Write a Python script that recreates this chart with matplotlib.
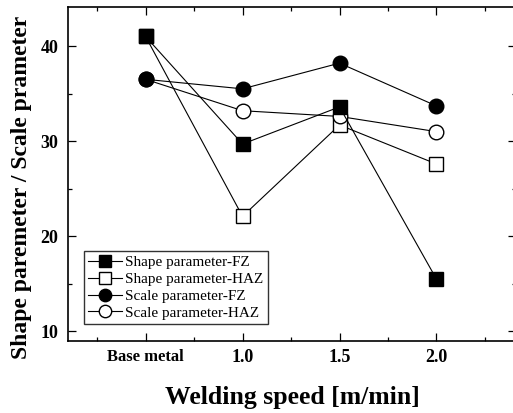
import numpy as np
import matplotlib.pyplot as plt
from matplotlib.ticker import MultipleLocator

plt.rcParams['font.family'] = ['Liberation Serif', 'DejaVu Serif']

categories = ['Base metal', '1.0', '1.5', '2.0']
shape_fz = [41.0, 29.7, 33.6, 15.5]
shape_haz = [41.0, 22.1, 31.7, 27.6]
scale_fz = [36.5, 35.5, 38.2, 33.7]
scale_haz = [36.5, 33.2, 32.6, 31.0]

x = np.arange(len(categories))

fig = plt.figure(figsize=(5.13, 4.13), dpi=100)
ax = fig.add_axes([68 / 513, 1 - 341 / 413, (516 - 68) / 513, (341 - 7) / 413])

lw = 0.8
ms = 9.5
ax.plot(x, shape_fz, '-s', color='black', mfc='black', mec='black', lw=lw, ms=ms,
        label='Shape parameter-FZ')
ax.plot(x, shape_haz, '-s', color='black', mfc='white', mec='black', lw=lw, ms=ms,
        label='Shape parameter-HAZ', zorder=1.5)
ax.plot(x, scale_fz, '-o', color='black', mfc='black', mec='black', lw=lw, ms=ms + 1,
        label='Scale parameter-FZ')
ax.plot(x, scale_haz, '-o', color='black', mfc='white', mec='black', lw=lw, ms=ms + 1,
        label='Scale parameter-HAZ', zorder=1.5)

ax.set_xlim(-0.8, 3.82)
ax.set_ylim(9.0, 44.1)
ax.set_xticks(x)
ax.set_xticklabels(categories)
ax.xaxis.set_minor_locator(MultipleLocator(0.5))
ax.set_yticks([10, 20, 30, 40])
ax.yaxis.set_minor_locator(MultipleLocator(5))
ax.tick_params(which='both', direction='in', top=True, right=True, width=0.9)
ax.tick_params(which='major', length=6, labelsize=13)
ax.tick_params(axis='x', which='major', pad=6)
ax.tick_params(axis='y', which='major', pad=7)
ax.tick_params(which='minor', length=3)
for lab in ax.get_xticklabels() + ax.get_yticklabels():
    lab.set_fontweight('bold')
ax.get_xticklabels()[0].set_fontsize(12)
for s in ax.spines.values():
    s.set_linewidth(1.2)

ax.set_xlabel('Welding speed [m/min]', fontsize=18.5, fontweight='bold')
ax.set_ylabel('Shape paremeter / Scale prameter', fontsize=17, fontweight='bold')
ax.xaxis.set_label_coords(0.5, -0.135)
ax.yaxis.set_label_coords(-0.08, 0.46)

leg = ax.legend(loc='lower left', bbox_to_anchor=(0.035, 0.05), fontsize=11,
                frameon=True, fancybox=False, edgecolor='black', handlelength=2.2,
                handletextpad=0.2, borderpad=0.3, labelspacing=0.2, borderaxespad=0,
                markerscale=0.85)
leg.get_frame().set_linewidth(1.0)

fig.savefig('out.png', dpi=100)
